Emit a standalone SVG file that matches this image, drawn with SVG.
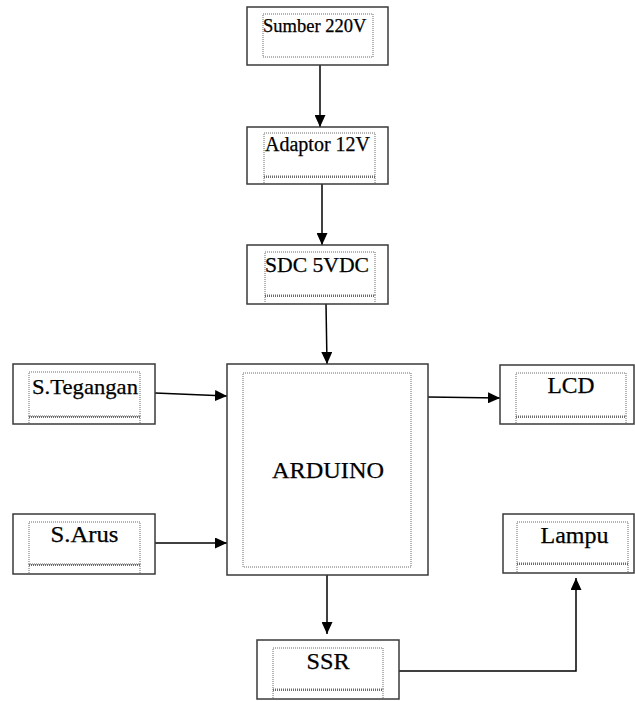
<svg xmlns="http://www.w3.org/2000/svg" width="635" height="701" viewBox="0 0 635 701">
<defs>
<marker id="arr" viewBox="0 0 12 11" refX="12" refY="5.5" markerWidth="12" markerHeight="11" markerUnits="userSpaceOnUse" orient="auto">
<path d="M0,0 L12,5.5 L0,11 z" fill="#000"/>
</marker>
<style>
.o{fill:#fff;stroke:#3a3a3a;stroke-width:1.5}
.i{fill:none;stroke:#6a6a6a;stroke-width:1;stroke-dasharray:1 1}
.d{fill:none;stroke:#6a6a6a;stroke-width:2;stroke-dasharray:1 1}
.c{fill:none;stroke:#000;stroke-width:1.5}
</style>
</defs>
<rect width="635" height="701" fill="#fff"/>
<g id="connectors">
<line class="c" x1="320" y1="65" x2="320" y2="127" marker-end="url(#arr)"/>
<line class="c" x1="322" y1="184" x2="322" y2="245" marker-end="url(#arr)"/>
<line class="c" x1="326" y1="304" x2="327" y2="364" marker-end="url(#arr)"/>
<line class="c" x1="155" y1="393" x2="227" y2="396" marker-end="url(#arr)"/>
<line class="c" x1="155" y1="543" x2="227" y2="543" marker-end="url(#arr)"/>
<line class="c" x1="428" y1="397" x2="500" y2="398" marker-end="url(#arr)"/>
<line class="c" x1="327" y1="575" x2="327" y2="634" marker-end="url(#arr)"/>
<polyline class="c" points="399,671 576,671 576,578" marker-end="url(#arr)"/>
</g>
<g font-family="'Liberation Serif', serif" fill="#000" stroke="#000" stroke-width="0.25">
<g id="sumber">
<rect class="o" x="247" y="7" width="141" height="58"/>
<rect class="i" x="263" y="14" width="110" height="43"/>
<text x="263" y="32" font-size="18.5">Sumber 220V</text>
</g>
<g id="adaptor">
<rect class="o" x="247" y="127" width="141" height="57"/>
<rect class="i" x="264" y="133" width="111" height="43"/>
<line class="d" x1="264" y1="177" x2="375" y2="177"/>
<path class="i" d="M264,176 V184 M375,176 V184"/>
<text x="265" y="151" font-size="20">Adaptor 12V</text>
</g>
<g id="sdc">
<rect class="o" x="247" y="245" width="141" height="59"/>
<rect class="i" x="265" y="252" width="110" height="43"/>
<line class="d" x1="265" y1="296" x2="375" y2="296"/>
<path class="i" d="M265,295 V304 M375,295 V304"/>
<text x="265" y="272" font-size="21.5" textLength="104" lengthAdjust="spacingAndGlyphs">SDC 5VDC</text>
</g>
<g id="stegangan">
<rect class="o" x="13" y="364" width="142" height="60"/>
<rect class="i" x="29" y="372" width="111" height="44"/>
<line class="d" x1="29" y1="417" x2="140" y2="417"/>
<path class="i" d="M29,416 V424 M140,416 V424"/>
<text x="32" y="394" font-size="22" textLength="106" lengthAdjust="spacingAndGlyphs">S.Tegangan</text>
</g>
<g id="sarus">
<rect class="o" x="13" y="514" width="142" height="60"/>
<rect class="i" x="29" y="522" width="111" height="42"/>
<line class="d" x1="29" y1="565" x2="140" y2="565"/>
<path class="i" d="M29,564 V574 M140,564 V574"/>
<text x="84.5" y="542" font-size="23" text-anchor="middle" textLength="68" lengthAdjust="spacingAndGlyphs">S.Arus</text>
</g>
<g id="arduino">
<rect class="o" x="227" y="364" width="201" height="211"/>
<rect class="i" x="243" y="373" width="168" height="194"/>
<text x="328" y="478" font-size="24" text-anchor="middle" textLength="112" lengthAdjust="spacingAndGlyphs">ARDUINO</text>
</g>
<g id="lcd">
<rect class="o" x="500" y="365" width="134" height="59"/>
<rect class="i" x="516" y="373" width="110" height="43"/>
<line class="d" x1="516" y1="417" x2="626" y2="417"/>
<path class="i" d="M516,416 V424 M626,416 V424"/>
<text x="571" y="393" font-size="23" text-anchor="middle" textLength="47" lengthAdjust="spacingAndGlyphs">LCD</text>
</g>
<g id="lampu">
<rect class="o" x="503" y="514" width="131" height="59"/>
<rect class="i" x="517" y="522" width="111" height="41"/>
<line class="d" x1="517" y1="564" x2="628" y2="564"/>
<path class="i" d="M517,563 V573 M628,563 V573"/>
<text x="574.5" y="543" font-size="23" text-anchor="middle" textLength="68" lengthAdjust="spacingAndGlyphs">Lampu</text>
</g>
<g id="ssr">
<rect class="o" x="257" y="640" width="142" height="59"/>
<rect class="i" x="273" y="648" width="110" height="41"/>
<line class="d" x1="273" y1="690" x2="383" y2="690"/>
<path class="i" d="M273,689 V699 M383,689 V699"/>
<text x="328" y="669" font-size="24" text-anchor="middle" textLength="43" lengthAdjust="spacingAndGlyphs">SSR</text>
</g>
</g>
</svg>
